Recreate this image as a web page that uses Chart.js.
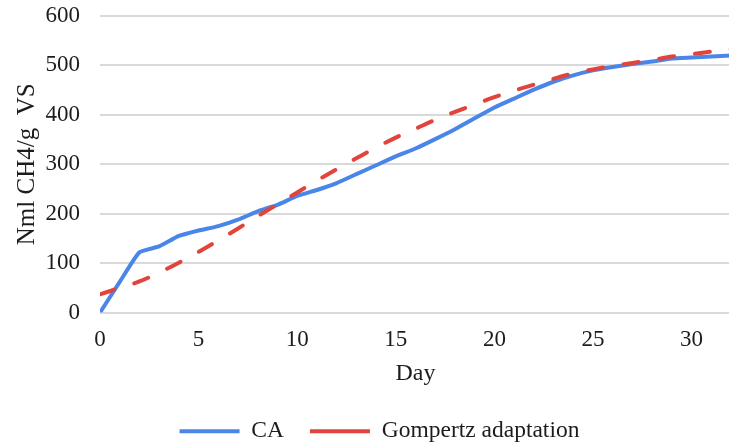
<!DOCTYPE html>
<html>
<head>
<meta charset="utf-8">
<title>Cumulative methane yield</title>
<script src="https://cdn.jsdelivr.net/npm/chart.js@4/dist/chart.umd.min.js"></script>
<style>
  html, body { margin: 0; padding: 0; background: #ffffff; overflow: hidden; }
  #wrap { width: 731px; height: 445px; }
</style>
</head>
<body>
<div id="wrap"><canvas id="chart" width="731" height="445"></canvas></div>
<script>
// Digestion day
const days = [0, 1, 2, 3, 4, 5, 6, 7, 8, 9, 10, 11, 12, 13, 14, 15, 16,
              17, 18, 19, 20, 21, 22, 23, 24, 25, 26, 27, 28, 29, 30, 31, 32];

// Measured cumulative yield (CA), Nml CH4 per g VS
const caYield = [0, 62, 122, 134, 155, 166, 175, 188, 205, 218, 236, 248, 262, 280, 298, 316, 332,
                 351, 371, 393, 415, 433, 451, 467, 480, 490, 497, 503, 508, 514, 516, 518, 520];

// Modified Gompertz fit of the same run
const gompertzYield = [37, 50, 63, 81, 101, 123, 146, 170, 195, 219, 243, 267, 290, 312, 334, 354, 372,
                       390, 406, 421, 436, 449, 461, 473, 484, 492, 499, 505, 511, 518, 523, 528, 533];

const seriesNames = ['CA', 'Gompertz adaptation'];
const xTicks = [0, 5, 10, 15, 20, 25, 30];
const yTicks = [0, 100, 200, 300, 400, 500, 600];

const SERIF = '"Liberation Serif", "Times New Roman", Times, serif';
const INK = '#1c1c1c';

const toPoints = (ys) => days.map((d, i) => ({ x: d, y: ys[i] }));

new Chart(document.getElementById('chart'), {
  type: 'line',
  data: {
    datasets: [
      {
        label: seriesNames[0],
        data: toPoints(caYield),
        borderColor: '#4a86e8',
        backgroundColor: '#4a86e8',
        borderWidth: 4,
        borderCapStyle: 'round',
        borderJoinStyle: 'round',
        tension: 0.15,
        pointRadius: 0,
        order: 1
      },
      {
        label: seriesNames[1],
        data: toPoints(gompertzYield),
        borderColor: '#e0443c',
        backgroundColor: '#e0443c',
        borderWidth: 4,
        borderDash: [15, 21],
        borderCapStyle: 'round',
        borderJoinStyle: 'round',
        cubicInterpolationMode: 'monotone',
        pointRadius: 0,
        order: 0
      }
    ]
  },
  options: {
    responsive: false,
    animation: false,
    events: [],
    layout: { padding: { left: 28, right: 0, top: 16, bottom: -8 } },
    scales: {
      x: {
        type: 'linear',
        min: 0,
        max: 32,
        afterBuildTicks: (scale) => { scale.ticks = xTicks.map(v => ({ value: v })); },
        ticks: {
          padding: 14,
          color: INK,
          font: { family: SERIF, size: 23 },
          maxRotation: 0
        },
        grid: { display: false, drawTicks: false },
        border: { display: false },
        title: {
          display: true,
          text: 'Day',
          color: INK,
          font: { family: SERIF, size: 24 },
          padding: { top: -9, bottom: 5.5 }
        }
      },
      y: {
        min: 0,
        max: 600,
        afterBuildTicks: (scale) => { scale.ticks = yTicks.map(v => ({ value: v })); },
        // fixed axis width; the plot top is set by the layout padding alone
        afterFit: (scale) => { scale.width = 72; scale.paddingTop = 0; },
        ticks: {
          padding: 20,
          color: INK,
          font: { family: SERIF, size: 23 }
        },
        grid: { color: '#d9d9d9', lineWidth: 2, drawTicks: false },
        border: { display: false },
        title: {
          display: true,
          text: 'Nml CH4/g  VS',
          color: INK,
          font: { family: SERIF, size: 25 },
          padding: { top: -16, bottom: 0 }
        }
      }
    },
    plugins: {
      legend: {
        position: 'bottom',
        labels: {
          usePointStyle: true,
          pointStyle: 'line',
          pointStyleWidth: 60,
          padding: 26,
          color: INK,
          font: { family: SERIF, size: 23.5 },
          sort: (a, b) => a.datasetIndex - b.datasetIndex
        }
      },
      tooltip: { enabled: false }
    }
  }
});
</script>
</body>
</html>
